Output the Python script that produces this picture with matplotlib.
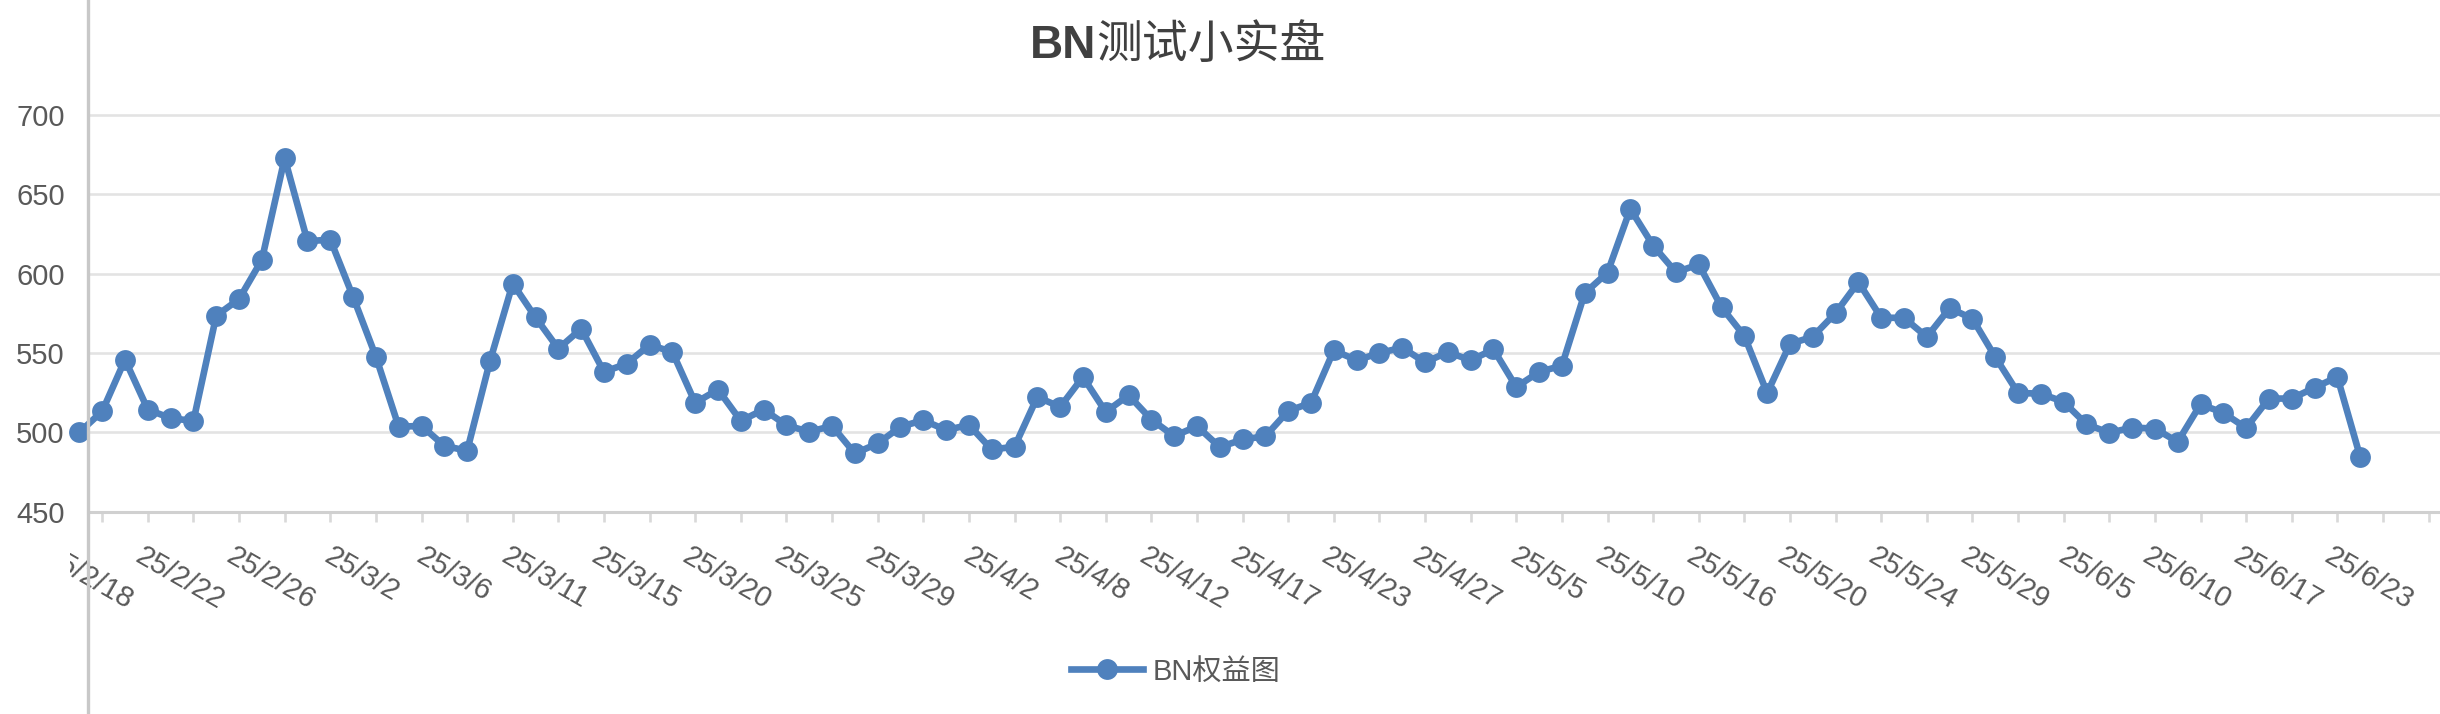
import matplotlib
matplotlib.use("Agg")
import matplotlib.pyplot as plt
import matplotlib.transforms as mtransforms
from matplotlib.lines import Line2D
from matplotlib.ticker import FixedLocator
from matplotlib.transforms import Bbox
import numpy as np

plt.rcParams['font.family'] = ['Liberation Sans', 'Noto Sans CJK SC', 'DejaVu Sans']

# data
title_latin = "BN"
title_cjk = "测试小实盘"
series_name = "BN权益图"

equity = [
    500.0, 513.3, 545.8, 514.4, 508.9, 507.2, 573.5, 584.0, 608.7, 672.8,
    620.4, 621.5, 585.4, 547.7, 503.5, 504.1, 491.5, 488.4, 544.8, 593.8,
    572.4, 552.7, 565.3, 538.1, 543.3, 555.2, 550.6, 518.6, 527.0, 507.2,
    514.4, 504.5, 500.3, 504.1, 486.7, 493.0, 503.5, 507.7, 501.4, 504.7,
    489.2, 490.9, 522.3, 516.0, 534.9, 512.9, 523.4, 508.1, 497.6, 503.9,
    490.7, 495.5, 497.6, 513.5, 518.6, 551.7, 545.4, 550.0, 553.4, 544.1,
    550.6, 545.4, 552.3, 528.6, 538.1, 542.0, 587.7, 600.7, 640.8, 617.7,
    600.9, 605.8, 578.9, 560.7, 524.8, 555.7, 560.3, 575.2, 594.7, 572.2,
    572.2, 560.1, 578.3, 571.6, 547.5, 524.8, 524.4, 519.2, 505.1, 499.7,
    503.0, 502.4, 494.0, 517.7, 512.3, 502.8, 521.3, 521.3, 528.2, 534.9,
    484.6,
]

# only every 4th date is shown on the axis
date_labels = [
    "25/2/18", "25/2/22", "25/2/26", "25/3/2", "25/3/6", "25/3/11",
    "25/3/15", "25/3/20", "25/3/25", "25/3/29", "25/4/2", "25/4/8",
    "25/4/12", "25/4/17", "25/4/23", "25/4/27", "25/5/5", "25/5/10",
    "25/5/16", "25/5/20", "25/5/24", "25/5/29", "25/6/5", "25/6/10",
    "25/6/17", "25/6/23",
]
label_step = 4
y_ticks = [450, 500, 550, 600, 650, 700]

blue = "#4F81BD"
grey_text = "#595959"
grid_col = "#E3E3E3"
fs = 21

W, H, DPI = 2440, 714, 100
fig = plt.figure(figsize=(W / DPI, H / DPI), dpi=DPI)
ax = fig.add_axes([88.3 / W, 1 - 511.7 / H, 1 - 88.3 / W, (511.7 - 51.5) / H])

x = np.arange(len(equity))
ax.plot(x, equity, color=blue, lw=4.8, marker="o", ms=15, mew=0,
        label=series_name, clip_on=False, zorder=3)

ax.set_xlim(0.39, 103.5)
ax.set_ylim(450, 740)

# y axis
ax.set_yticks(y_ticks)
ax.tick_params(axis="y", length=0, pad=17, labelsize=fs, labelcolor=grey_text)
ax.yaxis.grid(True, color=grid_col, lw=1.9)
ax.set_axisbelow(True)

# x axis: labels every 4th point, small tick marks at odd positions
label_pos = np.arange(0, len(equity), label_step)
ax.xaxis.set_major_locator(FixedLocator(label_pos[1:]))
ax.set_xticklabels(date_labels[1:], rotation=-30, ha="center", va="top")
ax.xaxis.set_minor_locator(FixedLocator(np.arange(1, 104, 2)))
ax.tick_params(axis="x", which="major", length=0, pad=22, labelsize=fs,
               labelcolor=grey_text)
ax.tick_params(axis="x", which="minor", length=7.5, width=1.9, color="#D9D9D9",
               direction="out")

offset = mtransforms.ScaledTranslation(9 / DPI, 0, fig.dpi_scale_trans)
for lbl in ax.get_xticklabels():
    lbl.set_transform(lbl.get_transform() + offset)

# first date sits left of the axis line, partly cut off
first = ax.annotate(date_labels[0], xy=(label_pos[0], 0),
                    xycoords=ax.get_xaxis_transform(),
                    xytext=(9 * 0.72, -22), textcoords="offset points",
                    rotation=-30, ha="center", va="top", fontsize=fs,
                    color=grey_text, annotation_clip=False)
first.set_clip_box(Bbox.from_extents(70, 0, W, H))
first.set_clip_on(True)

for side in ["top", "right", "left"]:
    ax.spines[side].set_visible(False)
ax.spines["bottom"].set_color("#D0D0D0")
ax.spines["bottom"].set_linewidth(2.2)

# vertical axis line running the full height
fig.add_artist(Line2D([88.3 / W, 88.3 / W], [0, 1], transform=fig.transFigure,
                      color="#C8C8C8", lw=2.4))

# title: bold latin part + CJK part
title_y = 1 - 58 / H
fig.text(1030 / W, title_y, title_latin, fontsize=33, fontweight="bold",
         color="#404040", family=["Liberation Sans"], ha="left", va="baseline")
fig.text(1096 / W, title_y, title_cjk, fontsize=33, color="#404040",
         family=["Noto Sans CJK SC"], ha="left", va="baseline")

ax.legend(loc="center", bbox_to_anchor=(1175.5 / W, 1 - 671.7 / H),
          bbox_transform=fig.transFigure, frameon=False, borderpad=0,
          handlelength=2.5, handletextpad=0.32, fontsize=fs,
          labelcolor=grey_text)

fig.savefig("out.png", dpi=DPI)
